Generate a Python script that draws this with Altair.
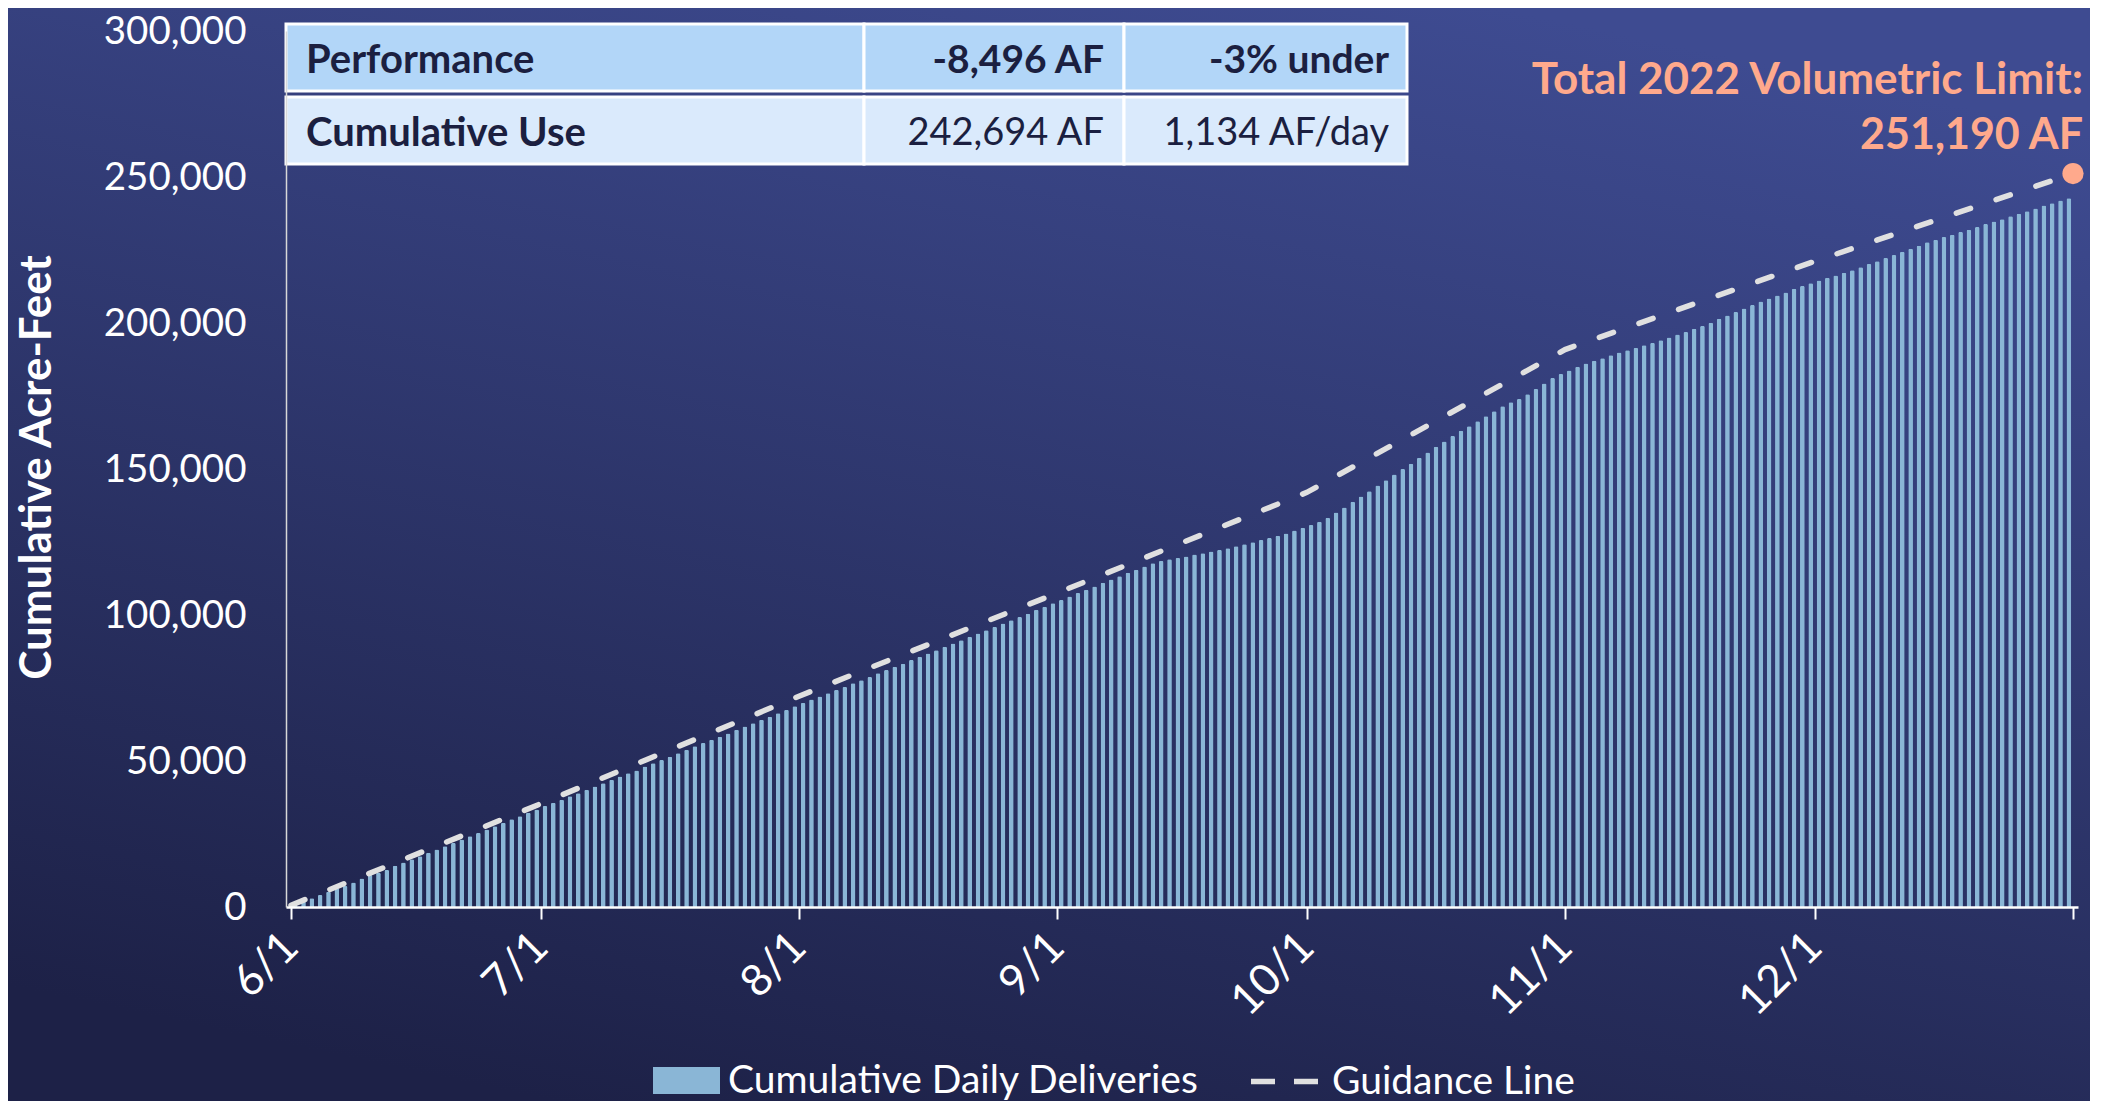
import altair as alt
import pandas as pd

# ---------------- data ----------------
# cumulative deliveries, one value per day from 6/1 to 12/31 (acre-feet)
deliveries = [
    800, 1900, 3000, 4100, 5250, 6390, 7180, 8430, 9800, 10930,
    11730, 12640, 14110, 15250, 16390, 17410, 18540, 19680, 20820, 21950,
    23090, 24220, 25360, 26500, 27630, 28880, 30020, 31040, 32290, 33420,
    34560, 35700, 36720, 37970, 38990, 40130, 41260, 42400, 43540, 44670,
    45810, 46720, 48080, 49220, 50350, 51490, 52620, 53870, 55010, 56150,
    57280, 58300, 59440, 60690, 61820, 62960, 64100, 65120, 66370, 67500,
    68760, 69900, 71040, 72060, 73200, 74340, 75360, 76610, 77630, 78760,
    80010, 81150, 82290, 83310, 84560, 85690, 86830, 87970, 89100, 90240,
    91380, 92510, 93650, 94790, 95920, 97060, 98190, 99330, 100470, 101830,
    102850, 103990, 105120, 106370, 107510, 108640, 109780, 111030, 112160, 113300,
    114440, 115460, 116600, 117730, 118530, 119100, 119550, 120000, 120690, 121140,
    121710, 122280, 122840, 123530, 124210, 124890, 125680, 126360, 127160, 127950,
    128930, 129900, 130815, 131950, 133310, 135130, 136830, 138770, 140580, 142400,
    144330, 146150, 148080, 150010, 151830, 153880, 155690, 157620, 159440, 161260,
    163080, 164670, 166370, 168070, 169780, 171480, 172850, 173980, 175580, 177390,
    179320, 181140, 182500, 183750, 184990, 186140, 187050, 187960, 188980, 189890,
    190680, 191480, 192390, 193180, 194090, 195000, 196020, 196930, 198070, 198970,
    200110, 201470, 202610, 203750, 204990, 206130, 207380, 208400, 209430, 210450,
    211720, 212630, 213650, 214560, 215470, 216260, 217170, 218080, 219100, 220240,
    221140, 222280, 223300, 224440, 225460, 226480, 227620, 228530, 229440, 230230,
    231140, 231940, 232850, 233870, 234780, 235570, 236590, 237390, 238300, 239210,
    240230, 241020, 241930, 242694,
]
# guidance line vertices (day offset from 6/1, cumulative acre-feet)
guide_days = [0, 30, 61, 92, 122, 153, 183, 214]
guide_values = [600, 35370, 72200, 107510, 142000, 190900, 221140, 251190]
limit_value = 251190
limit_label = ["Total 2022 Volumetric Limit:", "251,190 AF"]

tick_days = [0, 30, 61, 92, 122, 153, 183, 214]
tick_labels = ["6/1", "7/1", "8/1", "9/1", "10/1", "11/1", "12/1", ""]
y_ticks = [0, 50000, 100000, 150000, 200000, 250000, 300000]

table_labels = ["Performance", "Cumulative Use"]
table_col2 = ["-8,496 AF", "242,694 AF"]
table_col3 = ["-3% under", "1,134 AF/day"]

series_bars = "Cumulative Daily Deliveries"
series_line = "Guidance Line"

# ---------------- layout / style ----------------
W, H = 1792, 876
FONT = "Lato"
BAR_C = "#8ab6d6"
LINE_C = "#e0e0e0"
SALMON = "#ffa98c"
INK = "#1b1f40"

bars_df = pd.DataFrame({
    "day": [i + 0.5 for i in range(len(deliveries))],
    "value": deliveries,
    "series": series_bars,
})
guide_df = pd.DataFrame({"day": guide_days, "value": guide_values, "series": series_line})
limit_df = pd.DataFrame({"day": [guide_days[-1]], "value": [limit_value]})

label_expr = "''"
for d, lab in reversed(list(zip(tick_days, tick_labels))):
    label_expr = f"datum.value == {d} ? '{lab}' : ({label_expr})"

x_scale = alt.Scale(domain=[0, 214], nice=False, zero=False)
y_scale = alt.Scale(domain=[0, 300000], nice=False)

x_axis = alt.Axis(
    values=tick_days, labelExpr=label_expr, labelAngle=315, labelAlign="right",
    labelBaseline="middle", labelFont=FONT, labelFontSize=44, labelColor="white",
    labelPadding=21, labelFlush=False, labelOverlap=False,
    tickColor="white", tickSize=12, tickWidth=2,
    domainColor="white", domainWidth=2.5, grid=False, title=None, zindex=1,
)
y_axis = alt.Axis(
    values=y_ticks, format=",.0f", labelFont=FONT, labelFontSize=38.5, labelColor="white",
    ticks=False, labelPadding=40, domainColor="#d8d8d8", domainWidth=1.5, grid=False,
    title="Cumulative Acre-Feet", titleFont=FONT, titleFontSize=44, titleFontWeight="bold",
    titleColor="white", titleX=-249, titleY=436, titleAngle=270, titleAlign="center",
    titleBaseline="middle", zindex=1,
)

background = alt.Chart(pd.DataFrame({"k": [0]})).mark_rect(
    fill=alt.Gradient(
        gradient="linear",
        stops=[alt.GradientStop(offset=0, color="#1d2147"),
               alt.GradientStop(offset=1, color="#3e4b91")],
        x1=0.3, y1=1, x2=0.7, y2=0,
    )
).encode(
    x=alt.value(-290), x2=alt.value(W + 20), y=alt.value(-30), y2=alt.value(H + 210)
)

bars = alt.Chart(bars_df).mark_bar(
    size=4.7, cornerRadiusTopLeft=1.5, cornerRadiusTopRight=1.5
).encode(
    x=alt.X("day:Q", scale=x_scale, axis=x_axis),
    y=alt.Y("value:Q", scale=y_scale, axis=y_axis),
    fill=alt.Fill(
        "series:N",
        scale=alt.Scale(domain=[series_bars], range=[BAR_C]),
        legend=alt.Legend(
            orient="none", legendX=367, legendY=1016, title=None,
            symbolType="M-1,-0.4H1V0.4H-1Z", symbolSize=4489, symbolStrokeWidth=0,
            symbolOpacity=1, labelFont=FONT, labelFontSize=39, labelColor="white",
            labelOffset=8, labelLimit=1000, padding=0, zindex=1,
        ),
    ),
)

guide = alt.Chart(guide_df).mark_line(
    strokeWidth=5.5, strokeDash=[15, 27], strokeCap="round"
).encode(
    x=alt.X("day:Q", scale=x_scale),
    y=alt.Y("value:Q", scale=y_scale),
    stroke=alt.Stroke(
        "series:N",
        scale=alt.Scale(domain=[series_line], range=[LINE_C]),
        legend=alt.Legend(
            orient="none", legendX=962, legendY=1014, title=None,
            symbolType="stroke", symbolSize=4489, symbolStrokeWidth=5.5,
            symbolDash=[24, 19], labelFont=FONT, labelFontSize=39, labelColor="white",
            labelOffset=11, labelLimit=1000, padding=0, zindex=1,
        ),
    ),
)

dot = alt.Chart(limit_df).mark_circle(size=450, color=SALMON, opacity=1).encode(
    x=alt.X("day:Q", scale=x_scale), y=alt.Y("value:Q", scale=y_scale)
)

ann1 = alt.Chart(limit_df).mark_text(
    text=limit_label[0], font=FONT, fontSize=44, fontWeight="bold", color=SALMON,
    align="right", baseline="middle", dx=10, dy=-93,
).encode(x=alt.X("day:Q", scale=x_scale), y=alt.Y("value:Q", scale=y_scale))
ann2 = alt.Chart(limit_df).mark_text(
    text=limit_label[1], font=FONT, fontSize=43, fontWeight="bold", color=SALMON,
    align="right", baseline="middle", dx=10, dy=-38,
).encode(x=alt.X("day:Q", scale=x_scale), y=alt.Y("value:Q", scale=y_scale))

# summary table (drawn in pixel space over the top-left of the plot)
col_edges = [0, 578, 838, 1121]
row_edges = [(-7, 60), (66, 133)]
row_fills = ["#b2d6f8", "#daeafc"]
one = pd.DataFrame({"k": [0]})
table_layers = []
for r, (y0, y1) in enumerate(row_edges):
    for c in range(3):
        table_layers.append(
            alt.Chart(one).mark_rect(
                fill=row_fills[r], stroke="white", strokeWidth=3
            ).encode(
                x=alt.value(col_edges[c]), x2=alt.value(col_edges[c + 1]),
                y=alt.value(y0), y2=alt.value(y1),
            )
        )
    yc = (y0 + y1) / 2 + 3
    cells = [
        (table_labels[r], col_edges[0] + 20, "left", "bold", 40),
        (table_col2[r], col_edges[2] - 20, "right", "bold" if r == 0 else "normal", 39 if r == 0 else 38),
        (table_col3[r], col_edges[3] - 18, "right", "bold" if r == 0 else "normal", 39 if r == 0 else 38),
    ]
    for txt, xp, al, wt, fs in cells:
        table_layers.append(
            alt.Chart(one).mark_text(
                text=txt, font=FONT, fontSize=fs, fontWeight=wt, color=INK,
                align=al, baseline="middle",
            ).encode(x=alt.value(xp), y=alt.value(yc))
        )

chart = alt.layer(
    background, bars, guide, dot, ann1, ann2, *table_layers
).resolve_scale(
    fill="independent", stroke="independent"
).properties(
    width=W, height=H,
    padding={"left": 278, "top": 23, "right": 12, "bottom": 194},
    autosize=alt.AutoSizeParams(type="none"),
).configure(
    background="#262c5e"
).configure_view(
    strokeWidth=0
)

chart.save("out.html", embed_options={"renderer": "svg", "actions": False})
